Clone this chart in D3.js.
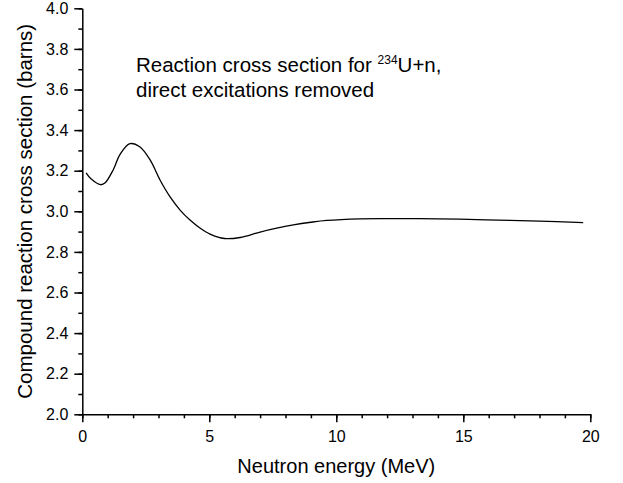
<!DOCTYPE html>
<html>
<head>
<meta charset="utf-8">
<script src="https://cdn.jsdelivr.net/npm/d3@7"></script>
<style>
  html, body { margin: 0; padding: 0; background: #fff; }
  svg { display: block; font-family: "Liberation Sans", Arial, sans-serif; }
</style>
</head>
<body>
<svg id="chart" width="623" height="483"></svg>
<script>
// Compound reaction cross section vs neutron energy
const energy = [0.15, 0.34, 0.72, 0.89, 1.22, 1.48, 1.87, 2.26, 2.67, 3.06, 3.45, 3.85, 4.24, 4.63, 5.03, 5.6, 6.21, 7.0, 7.7, 8.31, 9.0, 9.62, 10.93, 12.0, 14.0, 15.9, 18.0, 19.72];
const sigma  = [3.189, 3.160, 3.131, 3.139, 3.205, 3.279, 3.333, 3.318, 3.253, 3.154, 3.072, 3.006, 2.957, 2.918, 2.888, 2.866, 2.871, 2.898, 2.918, 2.933, 2.946, 2.955, 2.963, 2.964, 2.963, 2.958, 2.952, 2.944];

const xMajorTicks = [0, 5, 10, 15, 20];
const xMinorTicks = d3.range(0, 21, 1);
const yMajorTicks = [2.0, 2.2, 2.4, 2.6, 2.8, 3.0, 3.2, 3.4, 3.6, 3.8, 4.0];
const yMinorTicks = d3.range(20, 41, 1).map(v => v / 10);

const svg = d3.select("#chart");

const x = d3.scaleLinear().domain([0, 20]).range([82.3, 590.3]);
const y = d3.scaleLinear().domain([2.0, 4.0]).range([414.3, 8.3]);

const axisW = 1.5;
const font = "'Liberation Sans', Arial, sans-serif";

// minor ticks first, then major axes on top
svg.append("g")
  .attr("transform", `translate(0,${y(2.0)})`)
  .call(d3.axisBottom(x).tickValues(xMinorTicks).tickSize(4).tickFormat(""))
  .call(g => g.select(".domain").remove())
  .call(g => g.selectAll("line").attr("stroke", "#000").attr("stroke-width", axisW));

svg.append("g")
  .attr("transform", `translate(${x(0)},0)`)
  .call(d3.axisLeft(y).tickValues(yMinorTicks).tickSize(4).tickFormat(""))
  .call(g => g.select(".domain").remove())
  .call(g => g.selectAll("line").attr("stroke", "#000").attr("stroke-width", axisW));

const xAxis = svg.append("g")
  .attr("transform", `translate(0,${y(2.0)})`)
  .call(d3.axisBottom(x).tickValues(xMajorTicks).tickSize(8).tickSizeOuter(0).tickPadding(8).tickFormat(d3.format("d")));

const yAxis = svg.append("g")
  .attr("transform", `translate(${x(0)},0)`)
  .call(d3.axisLeft(y).tickValues(yMajorTicks).tickSize(8).tickSizeOuter(0).tickPadding(6).tickFormat(d3.format(".1f")));

[xAxis, yAxis].forEach(g => {
  g.select(".domain").attr("stroke", "#000").attr("stroke-width", axisW);
  g.selectAll("line").attr("stroke", "#000").attr("stroke-width", axisW);
  g.selectAll("text").attr("fill", "#000").style("font-size", "16px").style("font-family", font);
});

// Curve
const pts = energy.map((e, i) => [e, sigma[i]]);
svg.append("path")
  .datum(pts)
  .attr("fill", "none")
  .attr("stroke", "#000")
  .attr("stroke-width", 1.3)
  .attr("d", d3.line().x(d => x(d[0])).y(d => y(d[1])).curve(d3.curveCatmullRom.alpha(0.5)));

// Axis titles
svg.append("text")
  .attr("x", (x(0) + x(20)) / 2)
  .attr("y", 473)
  .attr("text-anchor", "middle")
  .style("font-size", "20px")
  .text("Neutron energy (MeV)");

svg.append("text")
  .attr("transform", `translate(32,${(y(2.0) + y(4.0)) / 2}) rotate(-90)`)
  .attr("text-anchor", "middle")
  .style("font-size", "20.5px")
  .text("Compound reaction cross section (barns)");

// Annotation
const note = svg.append("text").attr("x", 136).attr("y", 71.5).style("font-size", "20.5px");
note.append("tspan").text("Reaction cross section for ");
note.append("tspan").attr("dy", -8).style("font-size", "12px").text("234");
note.append("tspan").attr("dy", 8).text("U+n,");

svg.append("text").attr("x", 136).attr("y", 97).style("font-size", "20.5px")
  .text("direct excitations removed");
</script>
</body>
</html>
